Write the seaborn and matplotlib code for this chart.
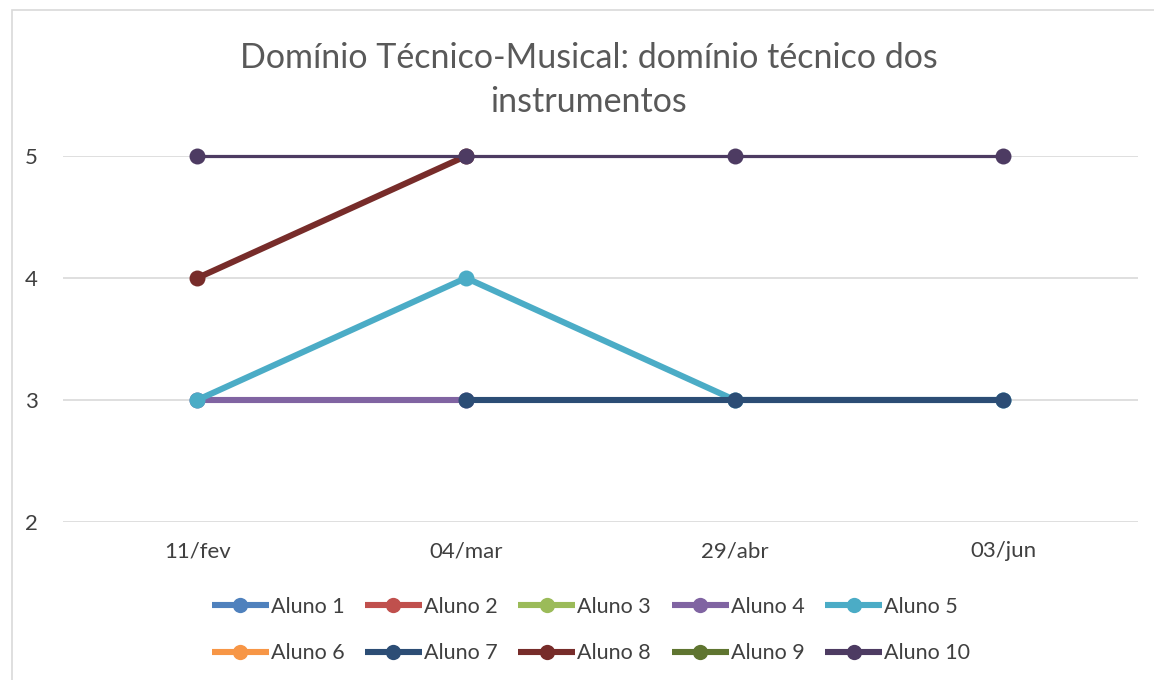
import numpy as np
import pandas as pd
import seaborn as sns
import matplotlib.pyplot as plt
from matplotlib.lines import Line2D
from matplotlib.patches import Rectangle

# dados
datas = ['11/fev', '04/mar', '29/abr', '03/jun']
alunos = ['Aluno 1', 'Aluno 2', 'Aluno 3', 'Aluno 4', 'Aluno 5',
          'Aluno 6', 'Aluno 7', 'Aluno 8', 'Aluno 9', 'Aluno 10']
aluno_1 = [np.nan, np.nan, np.nan, np.nan]
aluno_2 = [np.nan, np.nan, np.nan, np.nan]
aluno_3 = [np.nan, np.nan, np.nan, np.nan]
aluno_4 = [3, 3, np.nan, np.nan]
aluno_5 = [3, 4, 3, 3]
aluno_6 = [np.nan, np.nan, np.nan, np.nan]
aluno_7 = [np.nan, 3, 3, 3]
aluno_8 = [4, 5, np.nan, np.nan]
aluno_9 = [np.nan, np.nan, np.nan, np.nan]
aluno_10 = [5, 5, 5, 5]
cores = ['#4F81BD', '#C0504D', '#9BBB59', '#8064A2', '#4BACC6',
         '#F79646', '#2C4D75', '#772C2A', '#5F7530', '#4D3B62']

valores = [aluno_1, aluno_2, aluno_3, aluno_4, aluno_5,
           aluno_6, aluno_7, aluno_8, aluno_9, aluno_10]
df = pd.DataFrame([(d, a, v) for a, vals in zip(alunos, valores) for d, v in zip(datas, vals)],
                  columns=['Data', 'Aluno', 'Nota'])
paleta = dict(zip(alunos, cores))

sns.set_style('white')
plt.rcParams['font.family'] = ['Lato', 'DejaVu Sans']

fig = plt.figure(figsize=(11.54, 6.8), dpi=100)
ax = fig.add_axes([0.0546, 0.2324, 0.9314, 0.5382])

for aluno in alunos:
    sub = df[df['Aluno'] == aluno].dropna()
    if sub.empty:
        continue
    lw = 2.3 if aluno == 'Aluno 10' else 4.4
    sns.lineplot(data=sub, x='Data', y='Nota', color=paleta[aluno], linewidth=lw,
                 marker='o', ax=ax, legend=False)
    ln = ax.lines[-1]
    ln.set_markersize(11.5)
    ln.set_markeredgewidth(0)
    ln.set_solid_capstyle('butt')
    ln.set_clip_on(False)

ax.set_xlim(-0.5, 3.5)
ax.set_ylim(2, 5)
ax.set_xticks(range(len(datas)))
ax.set_xticklabels(datas)
ax.set_yticks([2, 3, 4, 5])
ax.yaxis.grid(True, color='#D9D9D9', linewidth=1.2)
ax.set_axisbelow(True)
for s in ax.spines.values():
    s.set_visible(False)
ax.set_xlabel('')
ax.set_ylabel('')
ax.tick_params(axis='both', labelsize=16, length=0)
ax.tick_params(axis='x', pad=14)
ax.tick_params(axis='y', pad=18)
for lab in ax.get_xticklabels() + ax.get_yticklabels():
    lab.set_color('#404040')

fig.text(0.51, 0.915, 'Domínio Técnico-Musical: domínio técnico dos',
         ha='center', va='center', fontsize=24.5, color='#595959')
fig.text(0.51, 0.85, 'instrumentos', ha='center', va='center', fontsize=24.5, color='#595959')

# legenda em duas linhas, preenchida por linha
ordem = [0, 5, 1, 6, 2, 7, 3, 8, 4, 9]
handles = [Line2D([0], [0], color=cores[i], linewidth=4.4, marker='o', markersize=11,
                  markeredgewidth=0, solid_capstyle='butt') for i in ordem]
labels = [alunos[i] for i in ordem]
fig.legend(handles, labels, loc='center', bbox_to_anchor=(0.512, 0.0735), ncol=5,
           frameon=False, fontsize=15.5, handlelength=2.65, handletextpad=0.1,
           columnspacing=0.95, labelspacing=1.25, labelcolor='#404040')

fig.patches.append(Rectangle((12 / 1154, -0.01), 1.0, 1 - 10 / 680 + 0.01,
                             transform=fig.transFigure, fill=False,
                             edgecolor='#D9D9D9', linewidth=1.2))

fig.savefig('out.png', dpi=100)
